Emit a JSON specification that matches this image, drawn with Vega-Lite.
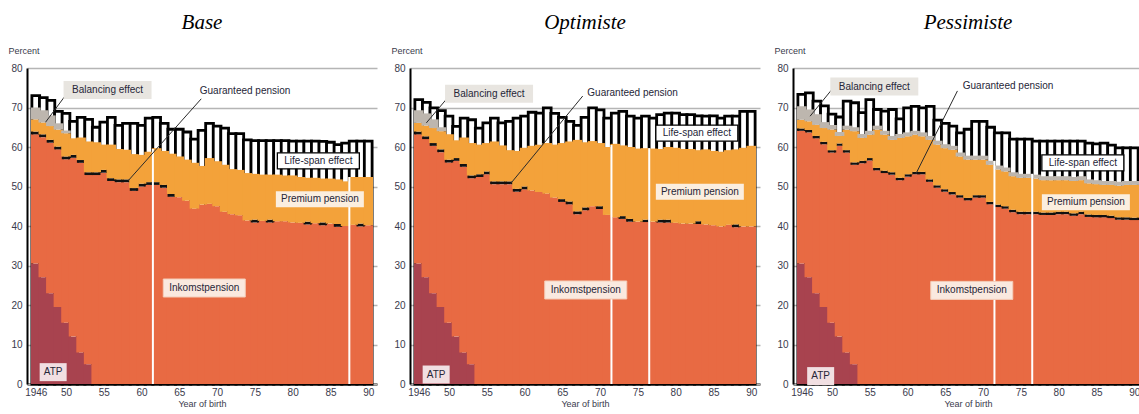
{
"$schema": "https://vega.github.io/schema/vega-lite/v6.json",
"padding": {"left": 8, "top": 12, "right": 0, "bottom": 0},
"data": {"values": [
{"s":"Base","k":"d","year":1946,"atp":30.5,"ink":63.2,"gar":63.9,"prem":67.0,"bal":70.0,"life":73.0},
{"s":"Base","k":"d","year":1947,"atp":27.0,"ink":62.5,"gar":63.2,"prem":66.2,"bal":69.3,"life":72.5},
{"s":"Base","k":"d","year":1948,"atp":23.0,"ink":61.1,"gar":61.8,"prem":65.3,"bal":68.0,"life":71.8},
{"s":"Base","k":"d","year":1949,"atp":19.5,"ink":59.4,"gar":60.1,"prem":64.4,"bal":66.0,"life":69.0},
{"s":"Base","k":"d","year":1950,"atp":15.5,"ink":56.9,"gar":57.6,"prem":63.5,"bal":64.2,"life":68.5},
{"s":"Base","k":"d","year":1951,"atp":12.0,"ink":57.3,"gar":58.0,"prem":62.2,"bal":62.2,"life":66.5},
{"s":"Base","k":"d","year":1952,"atp":8.0,"ink":56.0,"gar":56.7,"prem":62.4,"bal":62.4,"life":67.5},
{"s":"Base","k":"d","year":1953,"atp":5.0,"ink":52.9,"gar":53.6,"prem":61.4,"bal":61.4,"life":67.0},
{"s":"Base","k":"d","year":1954,"atp":0,"ink":52.9,"gar":53.6,"prem":61.2,"bal":61.2,"life":65.0},
{"s":"Base","k":"d","year":1955,"atp":0,"ink":53.5,"gar":54.2,"prem":60.6,"bal":60.6,"life":66.3},
{"s":"Base","k":"d","year":1956,"atp":0,"ink":51.4,"gar":52.1,"prem":60.6,"bal":60.6,"life":67.5},
{"s":"Base","k":"d","year":1957,"atp":0,"ink":51.1,"gar":51.8,"prem":59.5,"bal":59.5,"life":65.5},
{"s":"Base","k":"d","year":1958,"atp":0,"ink":51.1,"gar":51.8,"prem":59.3,"bal":59.3,"life":66.0},
{"s":"Base","k":"d","year":1959,"atp":0,"ink":48.9,"gar":49.6,"prem":58.2,"bal":58.2,"life":66.0},
{"s":"Base","k":"d","year":1960,"atp":0,"ink":50.0,"gar":50.7,"prem":58.0,"bal":58.0,"life":65.5},
{"s":"Base","k":"d","year":1961,"atp":0,"ink":50.4,"gar":51.1,"prem":58.8,"bal":58.8,"life":67.3},
{"s":"Base","k":"d","year":1962,"atp":0,"ink":50.4,"gar":51.1,"prem":59.7,"bal":59.7,"life":67.5},
{"s":"Base","k":"d","year":1963,"atp":0,"ink":49.7,"gar":50.4,"prem":59.0,"bal":59.0,"life":66.0},
{"s":"Base","k":"d","year":1964,"atp":0,"ink":47.4,"gar":48.1,"prem":58.3,"bal":58.3,"life":64.5},
{"s":"Base","k":"d","year":1965,"atp":0,"ink":47.3,"gar":47.3,"prem":57.6,"bal":57.6,"life":64.5},
{"s":"Base","k":"d","year":1966,"atp":0,"ink":46.4,"gar":46.4,"prem":56.8,"bal":56.8,"life":63.8},
{"s":"Base","k":"d","year":1967,"atp":0,"ink":44.4,"gar":44.4,"prem":56.0,"bal":56.0,"life":62.0},
{"s":"Base","k":"d","year":1968,"atp":0,"ink":45.4,"gar":45.4,"prem":55.2,"bal":55.2,"life":64.2},
{"s":"Base","k":"d","year":1969,"atp":0,"ink":45.6,"gar":45.6,"prem":57.2,"bal":57.2,"life":66.0},
{"s":"Base","k":"d","year":1970,"atp":0,"ink":45.0,"gar":45.0,"prem":56.4,"bal":56.4,"life":65.3},
{"s":"Base","k":"d","year":1971,"atp":0,"ink":43.6,"gar":43.6,"prem":55.5,"bal":55.5,"life":64.8},
{"s":"Base","k":"d","year":1972,"atp":0,"ink":43.0,"gar":43.0,"prem":54.4,"bal":54.4,"life":63.4},
{"s":"Base","k":"d","year":1973,"atp":0,"ink":42.7,"gar":42.7,"prem":54.2,"bal":54.2,"life":63.4},
{"s":"Base","k":"d","year":1974,"atp":0,"ink":41.4,"gar":41.4,"prem":53.4,"bal":53.4,"life":61.8},
{"s":"Base","k":"d","year":1975,"atp":0,"ink":40.9,"gar":41.6,"prem":53.2,"bal":53.2,"life":61.6},
{"s":"Base","k":"d","year":1976,"atp":0,"ink":41.3,"gar":41.3,"prem":53.0,"bal":53.0,"life":61.6},
{"s":"Base","k":"d","year":1977,"atp":0,"ink":40.9,"gar":41.6,"prem":53.0,"bal":53.0,"life":61.6},
{"s":"Base","k":"d","year":1978,"atp":0,"ink":41.2,"gar":41.2,"prem":53.0,"bal":53.0,"life":61.6},
{"s":"Base","k":"d","year":1979,"atp":0,"ink":41.2,"gar":41.2,"prem":52.8,"bal":52.8,"life":61.6},
{"s":"Base","k":"d","year":1980,"atp":0,"ink":40.9,"gar":40.9,"prem":52.8,"bal":52.8,"life":61.5},
{"s":"Base","k":"d","year":1981,"atp":0,"ink":40.8,"gar":40.8,"prem":52.4,"bal":52.4,"life":61.5},
{"s":"Base","k":"d","year":1982,"atp":0,"ink":40.4,"gar":41.1,"prem":52.2,"bal":52.2,"life":61.5},
{"s":"Base","k":"d","year":1983,"atp":0,"ink":40.7,"gar":40.7,"prem":52.2,"bal":52.2,"life":61.5},
{"s":"Base","k":"d","year":1984,"atp":0,"ink":40.2,"gar":40.9,"prem":52.0,"bal":52.0,"life":61.4},
{"s":"Base","k":"d","year":1985,"atp":0,"ink":40.6,"gar":40.6,"prem":52.0,"bal":52.0,"life":61.2},
{"s":"Base","k":"d","year":1986,"atp":0,"ink":39.8,"gar":40.5,"prem":51.8,"bal":51.8,"life":60.6},
{"s":"Base","k":"d","year":1987,"atp":0,"ink":40.0,"gar":40.0,"prem":51.3,"bal":51.3,"life":61.0},
{"s":"Base","k":"d","year":1988,"atp":0,"ink":40.3,"gar":40.3,"prem":52.4,"bal":52.4,"life":61.5},
{"s":"Base","k":"d","year":1989,"atp":0,"ink":39.9,"gar":40.6,"prem":52.4,"bal":52.4,"life":61.5},
{"s":"Base","k":"d","year":1990,"atp":0,"ink":40.2,"gar":40.2,"prem":52.4,"bal":52.4,"life":61.5},
{"s":"Optimiste","k":"d","year":1946,"atp":30.5,"ink":63.2,"gar":63.9,"prem":66.1,"bal":69.3,"life":72.0},
{"s":"Optimiste","k":"d","year":1947,"atp":27.0,"ink":62.0,"gar":62.7,"prem":65.4,"bal":68.5,"life":71.3},
{"s":"Optimiste","k":"d","year":1948,"atp":23.0,"ink":60.3,"gar":61.0,"prem":64.8,"bal":67.0,"life":69.9},
{"s":"Optimiste","k":"d","year":1949,"atp":19.5,"ink":58.7,"gar":59.4,"prem":64.0,"bal":65.0,"life":69.2},
{"s":"Optimiste","k":"d","year":1950,"atp":15.5,"ink":56.1,"gar":56.8,"prem":63.2,"bal":63.2,"life":67.8},
{"s":"Optimiste","k":"d","year":1951,"atp":12.0,"ink":56.5,"gar":57.2,"prem":61.7,"bal":61.7,"life":65.2},
{"s":"Optimiste","k":"d","year":1952,"atp":8.0,"ink":55.0,"gar":55.7,"prem":62.4,"bal":62.4,"life":67.3},
{"s":"Optimiste","k":"d","year":1953,"atp":5.0,"ink":52.1,"gar":52.8,"prem":61.0,"bal":61.0,"life":66.9},
{"s":"Optimiste","k":"d","year":1954,"atp":0,"ink":52.4,"gar":53.1,"prem":60.6,"bal":60.6,"life":64.8},
{"s":"Optimiste","k":"d","year":1955,"atp":0,"ink":53.1,"gar":53.8,"prem":61.0,"bal":61.0,"life":66.1},
{"s":"Optimiste","k":"d","year":1956,"atp":0,"ink":50.6,"gar":51.3,"prem":61.4,"bal":61.4,"life":67.3},
{"s":"Optimiste","k":"d","year":1957,"atp":0,"ink":50.6,"gar":51.3,"prem":60.4,"bal":60.4,"life":66.1},
{"s":"Optimiste","k":"d","year":1958,"atp":0,"ink":50.6,"gar":51.3,"prem":59.2,"bal":59.2,"life":66.5},
{"s":"Optimiste","k":"d","year":1959,"atp":0,"ink":48.7,"gar":49.4,"prem":59.0,"bal":59.0,"life":67.3},
{"s":"Optimiste","k":"d","year":1960,"atp":0,"ink":49.3,"gar":50.0,"prem":59.8,"bal":59.8,"life":67.8},
{"s":"Optimiste","k":"d","year":1961,"atp":0,"ink":49.0,"gar":49.0,"prem":60.3,"bal":60.3,"life":68.8},
{"s":"Optimiste","k":"d","year":1962,"atp":0,"ink":48.6,"gar":48.6,"prem":60.6,"bal":60.6,"life":68.6},
{"s":"Optimiste","k":"d","year":1963,"atp":0,"ink":48.2,"gar":48.2,"prem":61.0,"bal":61.0,"life":69.9},
{"s":"Optimiste","k":"d","year":1964,"atp":0,"ink":47.2,"gar":47.2,"prem":60.6,"bal":60.6,"life":68.5},
{"s":"Optimiste","k":"d","year":1965,"atp":0,"ink":46.1,"gar":46.8,"prem":61.0,"bal":61.0,"life":67.5},
{"s":"Optimiste","k":"d","year":1966,"atp":0,"ink":45.5,"gar":46.2,"prem":61.4,"bal":61.4,"life":66.5},
{"s":"Optimiste","k":"d","year":1967,"atp":0,"ink":43.0,"gar":43.7,"prem":61.8,"bal":61.8,"life":65.5},
{"s":"Optimiste","k":"d","year":1968,"atp":0,"ink":44.0,"gar":44.7,"prem":61.2,"bal":61.2,"life":67.5},
{"s":"Optimiste","k":"d","year":1969,"atp":0,"ink":45.0,"gar":45.0,"prem":61.5,"bal":61.5,"life":69.9},
{"s":"Optimiste","k":"d","year":1970,"atp":0,"ink":44.3,"gar":45.0,"prem":61.0,"bal":61.0,"life":69.4},
{"s":"Optimiste","k":"d","year":1971,"atp":0,"ink":42.8,"gar":42.8,"prem":60.0,"bal":60.0,"life":67.3},
{"s":"Optimiste","k":"d","year":1972,"atp":0,"ink":42.2,"gar":42.2,"prem":60.8,"bal":60.8,"life":68.6},
{"s":"Optimiste","k":"d","year":1973,"atp":0,"ink":41.8,"gar":42.5,"prem":60.4,"bal":60.4,"life":69.0},
{"s":"Optimiste","k":"d","year":1974,"atp":0,"ink":41.1,"gar":41.8,"prem":60.0,"bal":60.0,"life":67.8},
{"s":"Optimiste","k":"d","year":1975,"atp":0,"ink":41.1,"gar":41.1,"prem":59.6,"bal":59.6,"life":67.3},
{"s":"Optimiste","k":"d","year":1976,"atp":0,"ink":41.0,"gar":41.6,"prem":59.7,"bal":59.7,"life":67.8},
{"s":"Optimiste","k":"d","year":1977,"atp":0,"ink":41.1,"gar":41.1,"prem":59.6,"bal":59.6,"life":67.3},
{"s":"Optimiste","k":"d","year":1978,"atp":0,"ink":40.9,"gar":41.6,"prem":59.5,"bal":59.5,"life":68.2},
{"s":"Optimiste","k":"d","year":1979,"atp":0,"ink":40.9,"gar":41.6,"prem":60.0,"bal":60.0,"life":68.6},
{"s":"Optimiste","k":"d","year":1980,"atp":0,"ink":40.8,"gar":40.8,"prem":59.8,"bal":59.8,"life":68.6},
{"s":"Optimiste","k":"d","year":1981,"atp":0,"ink":40.6,"gar":40.6,"prem":59.5,"bal":59.5,"life":68.2},
{"s":"Optimiste","k":"d","year":1982,"atp":0,"ink":40.6,"gar":40.6,"prem":59.5,"bal":59.5,"life":68.2},
{"s":"Optimiste","k":"d","year":1983,"atp":0,"ink":40.5,"gar":41.2,"prem":59.2,"bal":59.2,"life":67.9},
{"s":"Optimiste","k":"d","year":1984,"atp":0,"ink":40.4,"gar":40.4,"prem":59.4,"bal":59.4,"life":67.8},
{"s":"Optimiste","k":"d","year":1985,"atp":0,"ink":40.2,"gar":40.2,"prem":59.0,"bal":59.0,"life":67.9},
{"s":"Optimiste","k":"d","year":1986,"atp":0,"ink":39.9,"gar":39.9,"prem":58.8,"bal":58.8,"life":67.3},
{"s":"Optimiste","k":"d","year":1987,"atp":0,"ink":40.3,"gar":40.3,"prem":59.2,"bal":59.2,"life":67.8},
{"s":"Optimiste","k":"d","year":1988,"atp":0,"ink":39.7,"gar":40.4,"prem":59.4,"bal":59.4,"life":67.8},
{"s":"Optimiste","k":"d","year":1989,"atp":0,"ink":39.9,"gar":39.9,"prem":59.8,"bal":59.8,"life":69.0},
{"s":"Optimiste","k":"d","year":1990,"atp":0,"ink":39.9,"gar":39.9,"prem":60.3,"bal":60.3,"life":69.0},
{"s":"Pessimiste","k":"d","year":1946,"atp":30.5,"ink":64.1,"gar":64.7,"prem":66.9,"bal":70.3,"life":73.3},
{"s":"Pessimiste","k":"d","year":1947,"atp":27.0,"ink":63.7,"gar":64.3,"prem":66.5,"bal":69.5,"life":73.7},
{"s":"Pessimiste","k":"d","year":1948,"atp":23.0,"ink":62.2,"gar":62.8,"prem":65.6,"bal":68.3,"life":71.6},
{"s":"Pessimiste","k":"d","year":1949,"atp":19.5,"ink":60.7,"gar":61.3,"prem":64.8,"bal":66.3,"life":70.4},
{"s":"Pessimiste","k":"d","year":1950,"atp":15.5,"ink":58.6,"gar":59.2,"prem":64.4,"bal":65.6,"life":68.3},
{"s":"Pessimiste","k":"d","year":1951,"atp":12.0,"ink":60.3,"gar":60.9,"prem":62.8,"bal":63.8,"life":67.6},
{"s":"Pessimiste","k":"d","year":1952,"atp":8.0,"ink":58.6,"gar":59.2,"prem":64.4,"bal":65.4,"life":71.6},
{"s":"Pessimiste","k":"d","year":1953,"atp":5.0,"ink":55.5,"gar":56.1,"prem":64.0,"bal":65.0,"life":71.2},
{"s":"Pessimiste","k":"d","year":1954,"atp":0,"ink":55.9,"gar":56.5,"prem":62.3,"bal":63.3,"life":68.7},
{"s":"Pessimiste","k":"d","year":1955,"atp":0,"ink":56.6,"gar":57.2,"prem":63.1,"bal":64.1,"life":72.0},
{"s":"Pessimiste","k":"d","year":1956,"atp":0,"ink":54.1,"gar":54.7,"prem":64.4,"bal":65.4,"life":69.5},
{"s":"Pessimiste","k":"d","year":1957,"atp":0,"ink":53.4,"gar":54.0,"prem":63.1,"bal":64.1,"life":69.1},
{"s":"Pessimiste","k":"d","year":1958,"atp":0,"ink":53.0,"gar":53.6,"prem":61.8,"bal":62.8,"life":69.5},
{"s":"Pessimiste","k":"d","year":1959,"atp":0,"ink":51.6,"gar":52.2,"prem":62.3,"bal":63.3,"life":67.1},
{"s":"Pessimiste","k":"d","year":1960,"atp":0,"ink":52.5,"gar":53.1,"prem":62.7,"bal":63.7,"life":69.9},
{"s":"Pessimiste","k":"d","year":1961,"atp":0,"ink":53.1,"gar":53.7,"prem":63.1,"bal":64.1,"life":70.3},
{"s":"Pessimiste","k":"d","year":1962,"atp":0,"ink":53.1,"gar":53.7,"prem":62.7,"bal":63.7,"life":69.9},
{"s":"Pessimiste","k":"d","year":1963,"atp":0,"ink":51.2,"gar":51.8,"prem":61.8,"bal":62.8,"life":70.3},
{"s":"Pessimiste","k":"d","year":1964,"atp":0,"ink":49.7,"gar":50.3,"prem":60.6,"bal":61.6,"life":66.8},
{"s":"Pessimiste","k":"d","year":1965,"atp":0,"ink":48.7,"gar":49.3,"prem":59.7,"bal":60.7,"life":66.0},
{"s":"Pessimiste","k":"d","year":1966,"atp":0,"ink":48.0,"gar":48.6,"prem":59.3,"bal":60.3,"life":65.3},
{"s":"Pessimiste","k":"d","year":1967,"atp":0,"ink":47.2,"gar":47.8,"prem":57.6,"bal":58.6,"life":63.6},
{"s":"Pessimiste","k":"d","year":1968,"atp":0,"ink":46.5,"gar":47.1,"prem":56.8,"bal":57.8,"life":64.5},
{"s":"Pessimiste","k":"d","year":1969,"atp":0,"ink":47.2,"gar":47.8,"prem":56.8,"bal":57.8,"life":66.5},
{"s":"Pessimiste","k":"d","year":1970,"atp":0,"ink":47.2,"gar":47.8,"prem":56.8,"bal":57.8,"life":66.5},
{"s":"Pessimiste","k":"d","year":1971,"atp":0,"ink":45.5,"gar":46.1,"prem":55.5,"bal":56.5,"life":65.0},
{"s":"Pessimiste","k":"d","year":1972,"atp":0,"ink":44.8,"gar":45.4,"prem":54.3,"bal":55.3,"life":63.6},
{"s":"Pessimiste","k":"d","year":1973,"atp":0,"ink":44.4,"gar":45.0,"prem":53.8,"bal":54.8,"life":63.6},
{"s":"Pessimiste","k":"d","year":1974,"atp":0,"ink":43.5,"gar":44.1,"prem":52.6,"bal":53.6,"life":62.0},
{"s":"Pessimiste","k":"d","year":1975,"atp":0,"ink":43.0,"gar":43.6,"prem":52.2,"bal":53.2,"life":62.0},
{"s":"Pessimiste","k":"d","year":1976,"atp":0,"ink":43.0,"gar":43.6,"prem":52.2,"bal":53.2,"life":62.0},
{"s":"Pessimiste","k":"d","year":1977,"atp":0,"ink":43.0,"gar":43.6,"prem":52.0,"bal":53.0,"life":61.5},
{"s":"Pessimiste","k":"d","year":1978,"atp":0,"ink":42.8,"gar":43.4,"prem":51.6,"bal":52.6,"life":61.5},
{"s":"Pessimiste","k":"d","year":1979,"atp":0,"ink":42.8,"gar":43.4,"prem":51.6,"bal":52.6,"life":61.5},
{"s":"Pessimiste","k":"d","year":1980,"atp":0,"ink":43.0,"gar":43.6,"prem":51.6,"bal":52.6,"life":61.5},
{"s":"Pessimiste","k":"d","year":1981,"atp":0,"ink":43.0,"gar":43.6,"prem":51.6,"bal":52.6,"life":61.5},
{"s":"Pessimiste","k":"d","year":1982,"atp":0,"ink":42.6,"gar":43.2,"prem":51.4,"bal":52.4,"life":61.5},
{"s":"Pessimiste","k":"d","year":1983,"atp":0,"ink":43.0,"gar":43.6,"prem":51.6,"bal":52.6,"life":61.5},
{"s":"Pessimiste","k":"d","year":1984,"atp":0,"ink":42.3,"gar":42.9,"prem":50.8,"bal":51.8,"life":61.0},
{"s":"Pessimiste","k":"d","year":1985,"atp":0,"ink":42.2,"gar":42.8,"prem":50.6,"bal":51.6,"life":60.8},
{"s":"Pessimiste","k":"d","year":1986,"atp":0,"ink":42.2,"gar":42.8,"prem":50.4,"bal":51.4,"life":61.0},
{"s":"Pessimiste","k":"d","year":1987,"atp":0,"ink":42.0,"gar":42.6,"prem":50.4,"bal":51.4,"life":60.5},
{"s":"Pessimiste","k":"d","year":1988,"atp":0,"ink":41.6,"gar":42.2,"prem":50.2,"bal":51.2,"life":59.8},
{"s":"Pessimiste","k":"d","year":1989,"atp":0,"ink":41.6,"gar":42.2,"prem":50.4,"bal":51.4,"life":59.8},
{"s":"Pessimiste","k":"d","year":1990,"atp":0,"ink":41.5,"gar":42.1,"prem":50.4,"bal":51.4,"life":59.8},
{"s":"Base","k":"v","year":1961.5,"top":59.5},
{"s":"Base","k":"v","year":1987.5,"top":52.4},
{"s":"Optimiste","k":"v","year":1971.5,"top":60.5},
{"s":"Optimiste","k":"v","year":1976.5,"top":59.7},
{"s":"Pessimiste","k":"v","year":1971.5,"top":56.5},
{"s":"Pessimiste","k":"v","year":1976.5,"top":53.2},
{"s":"Base","k":"l","year":1950.3,"v":74.0,"x2":1947.3,"v2":66.3},
{"s":"Base","k":"l","year":1967.9,"v":72.2,"x2":1958.2,"v2":51.4},
{"s":"Optimiste","k":"l","year":1949.7,"v":72.2,"x2":1947.0,"v2":66.1},
{"s":"Optimiste","k":"l","year":1967.7,"v":72.9,"x2":1958.1,"v2":50.6},
{"s":"Pessimiste","k":"l","year":1950.0,"v":74.6,"x2":1947.1,"v2":67.8},
{"s":"Pessimiste","k":"l","year":1966.6,"v":74.2,"x2":1961.1,"v2":53.2},
{"s":"Base","k":"t","lab":"Balancing effect","year":1955.5,"v":74.4},
{"s":"Base","k":"t","lab":"Guaranteed pension","year":1973.7,"v":74.2},
{"s":"Base","k":"t","lab":"Life-span effect","year":1983.4,"v":56.5},
{"s":"Base","k":"t","lab":"Premium pension","year":1983.6,"v":46.8},
{"s":"Base","k":"t","lab":"Inkomstpension","year":1968.3,"v":24.3},
{"s":"Base","k":"t","lab":"ATP","year":1948.3,"v":3.0},
{"s":"Optimiste","k":"t","lab":"Balancing effect","year":1955.3,"v":73.5},
{"s":"Optimiste","k":"t","lab":"Guaranteed pension","year":1974.3,"v":73.7},
{"s":"Optimiste","k":"t","lab":"Life-span effect","year":1982.8,"v":63.5},
{"s":"Optimiste","k":"t","lab":"Premium pension","year":1983.2,"v":48.7},
{"s":"Optimiste","k":"t","lab":"Inkomstpension","year":1968.1,"v":23.8},
{"s":"Optimiste","k":"t","lab":"ATP","year":1948.3,"v":2.4},
{"s":"Pessimiste","k":"t","lab":"Balancing effect","year":1955.6,"v":75.3},
{"s":"Pessimiste","k":"t","lab":"Guaranteed pension","year":1973.3,"v":75.4},
{"s":"Pessimiste","k":"t","lab":"Life-span effect","year":1983.2,"v":56.0},
{"s":"Pessimiste","k":"t","lab":"Premium pension","year":1983.6,"v":46.0},
{"s":"Pessimiste","k":"t","lab":"Inkomstpension","year":1968.5,"v":23.7},
{"s":"Pessimiste","k":"t","lab":"ATP","year":1948.5,"v":2.0}
]},
"facet": {"column": {"field": "s", "type": "nominal", "title": null,
  "header": {"labelFont": "Liberation Serif", "labelFontStyle": "italic", "labelFontSize": 21, "labelColor": "#000000", "labelPadding": 35}}},
"spacing": 33,
"bounds": "flush",
"resolve": {"axis": {"y": "independent"}},
"spec": {
  "width": 350,
  "height": 316,
  "layer": [
    {"transform": [{"filter": "datum.k == 'd'"}],
     "mark": {"type": "bar", "width": 7.78, "fill": "#ffffff", "stroke": "#000000", "strokeWidth": 2.8},
     "encoding": {
       "x": {"field": "year", "type": "quantitative", "scale": {"domain": [1945.5, 1990.5], "nice": false, "zero": false},
             "axis": {"title": "Year of birth", "values": [1946,1950,1955,1960,1965,1970,1975,1980,1985,1990], "tickCount": 40, "format": "d",
                      "labelExpr": "datum.value == 1946 ? '1946' : substring(datum.label, 2)", "grid": false, "labelFlush": false, "labelOverlap": false,
                      "labelPadding": 3, "titleFontSize": 9, "titlePadding": 2}},
       "y": {"field": "life", "type": "quantitative", "scale": {"domain": [0, 80], "nice": false, "zero": true},
             "axis": {"title": "Percent", "values": [0,10,20,30,40,50,60,70,80], "tickCount": 40, "grid": true, "gridColor": "#b5b5b5", "gridWidth": 1.3, "labelOverlap": false,
                      "titleAngle": 0, "titleAlign": "left", "titleBaseline": "alphabetic", "titleX": -19, "titleY": -15, "titleFontSize": 9, "labelPadding": 5}},
       "y2": {"datum": 0}
     }},
    {"transform": [{"filter": "datum.k == 'd'"}],
     "mark": {"type": "bar", "width": 9.6, "color": "#a8434f"},
     "encoding": {"x": {"field": "year", "type": "quantitative"}, "y": {"field": "atp", "type": "quantitative"}, "y2": {"datum": 0}}},
    {"transform": [{"filter": "datum.k == 'd'"}],
     "mark": {"type": "bar", "width": 9.6, "color": "#e86a43"},
     "encoding": {"x": {"field": "year", "type": "quantitative"}, "y": {"field": "atp", "type": "quantitative"}, "y2": {"field": "ink"}}},
    {"transform": [{"filter": "datum.k == 'd'"}],
     "mark": {"type": "bar", "width": 8.4, "color": "#111111"},
     "encoding": {"x": {"field": "year", "type": "quantitative"}, "y": {"field": "ink", "type": "quantitative"}, "y2": {"field": "gar"}}},
    {"transform": [{"filter": "datum.k == 'd'"}],
     "mark": {"type": "bar", "width": 9.6, "color": "#f3a23a"},
     "encoding": {"x": {"field": "year", "type": "quantitative"}, "y": {"field": "gar", "type": "quantitative"}, "y2": {"field": "prem"}}},
    {"transform": [{"filter": "datum.k == 'd'"}],
     "mark": {"type": "bar", "width": 9.6, "color": "#bdb6ae"},
     "encoding": {"x": {"field": "year", "type": "quantitative"}, "y": {"field": "prem", "type": "quantitative"}, "y2": {"field": "bal"}}},
    {"transform": [{"filter": "datum.k == 'v'"}],
     "mark": {"type": "rule", "color": "#ffffff", "strokeWidth": 2},
     "encoding": {"x": {"field": "year", "type": "quantitative"}, "y": {"field": "top", "type": "quantitative"}, "y2": {"datum": 0}}},
    {"transform": [{"filter": "datum.k == 'l'"}],
     "mark": {"type": "rule", "color": "#2a2a2a", "strokeWidth": 1},
     "encoding": {"x": {"field": "year", "type": "quantitative"}, "y": {"field": "v", "type": "quantitative"}, "x2": {"field": "x2"}, "y2": {"field": "v2"}}},
    {"transform": [{"filter": "datum.k == 't' && datum.lab == 'Balancing effect'"}],
     "mark": {"type": "rect", "fill": "#e8e5e0", "xOffset": -44, "x2Offset": 44, "yOffset": -9, "y2Offset": 9},
     "encoding": {"x": {"field": "year", "type": "quantitative"}, "x2": {"field": "year"}, "y": {"field": "v", "type": "quantitative"}, "y2": {"field": "v"}}},
    {"transform": [{"filter": "datum.k == 't' && datum.lab == 'Life-span effect'"}],
     "mark": {"type": "rect", "fill": "#ffffff", "stroke": "#000000", "strokeWidth": 1.3, "xOffset": -41, "x2Offset": 41, "yOffset": -8, "y2Offset": 8},
     "encoding": {"x": {"field": "year", "type": "quantitative"}, "x2": {"field": "year"}, "y": {"field": "v", "type": "quantitative"}, "y2": {"field": "v"}}},
    {"transform": [{"filter": "datum.k == 't' && datum.lab == 'Premium pension'"}],
     "mark": {"type": "rect", "fill": "#fbeedf", "xOffset": -44, "x2Offset": 44, "yOffset": -8, "y2Offset": 8},
     "encoding": {"x": {"field": "year", "type": "quantitative"}, "x2": {"field": "year"}, "y": {"field": "v", "type": "quantitative"}, "y2": {"field": "v"}}},
    {"transform": [{"filter": "datum.k == 't' && datum.lab == 'Inkomstpension'"}],
     "mark": {"type": "rect", "fill": "#fae9df", "stroke": "#f4cdb9", "strokeWidth": 1, "xOffset": -41, "x2Offset": 41, "yOffset": -9, "y2Offset": 9},
     "encoding": {"x": {"field": "year", "type": "quantitative"}, "x2": {"field": "year"}, "y": {"field": "v", "type": "quantitative"}, "y2": {"field": "v"}}},
    {"transform": [{"filter": "datum.k == 't' && datum.lab == 'ATP'"}],
     "mark": {"type": "rect", "fill": "#f1dfe2", "xOffset": -13.5, "x2Offset": 13.5, "yOffset": -9, "y2Offset": 9},
     "encoding": {"x": {"field": "year", "type": "quantitative"}, "x2": {"field": "year"}, "y": {"field": "v", "type": "quantitative"}, "y2": {"field": "v"}}},
    {"transform": [{"filter": "datum.k == 't'"}],
     "mark": {"type": "text", "fontSize": 10, "color": "#262638", "align": "center", "baseline": "middle"},
     "encoding": {"x": {"field": "year", "type": "quantitative"}, "y": {"field": "v", "type": "quantitative"}, "text": {"field": "lab"}}}
  ]
},
"config": {
  "font": "Liberation Sans",
  "view": {"stroke": null},
  "axis": {"labelColor": "#3a3a4c", "labelFontSize": 10, "ticks": false, "labelOverlap": false, "domainColor": "#000000", "domainWidth": 2, "titleFontWeight": "normal", "titleColor": "#3a3a4c"}
}
}
